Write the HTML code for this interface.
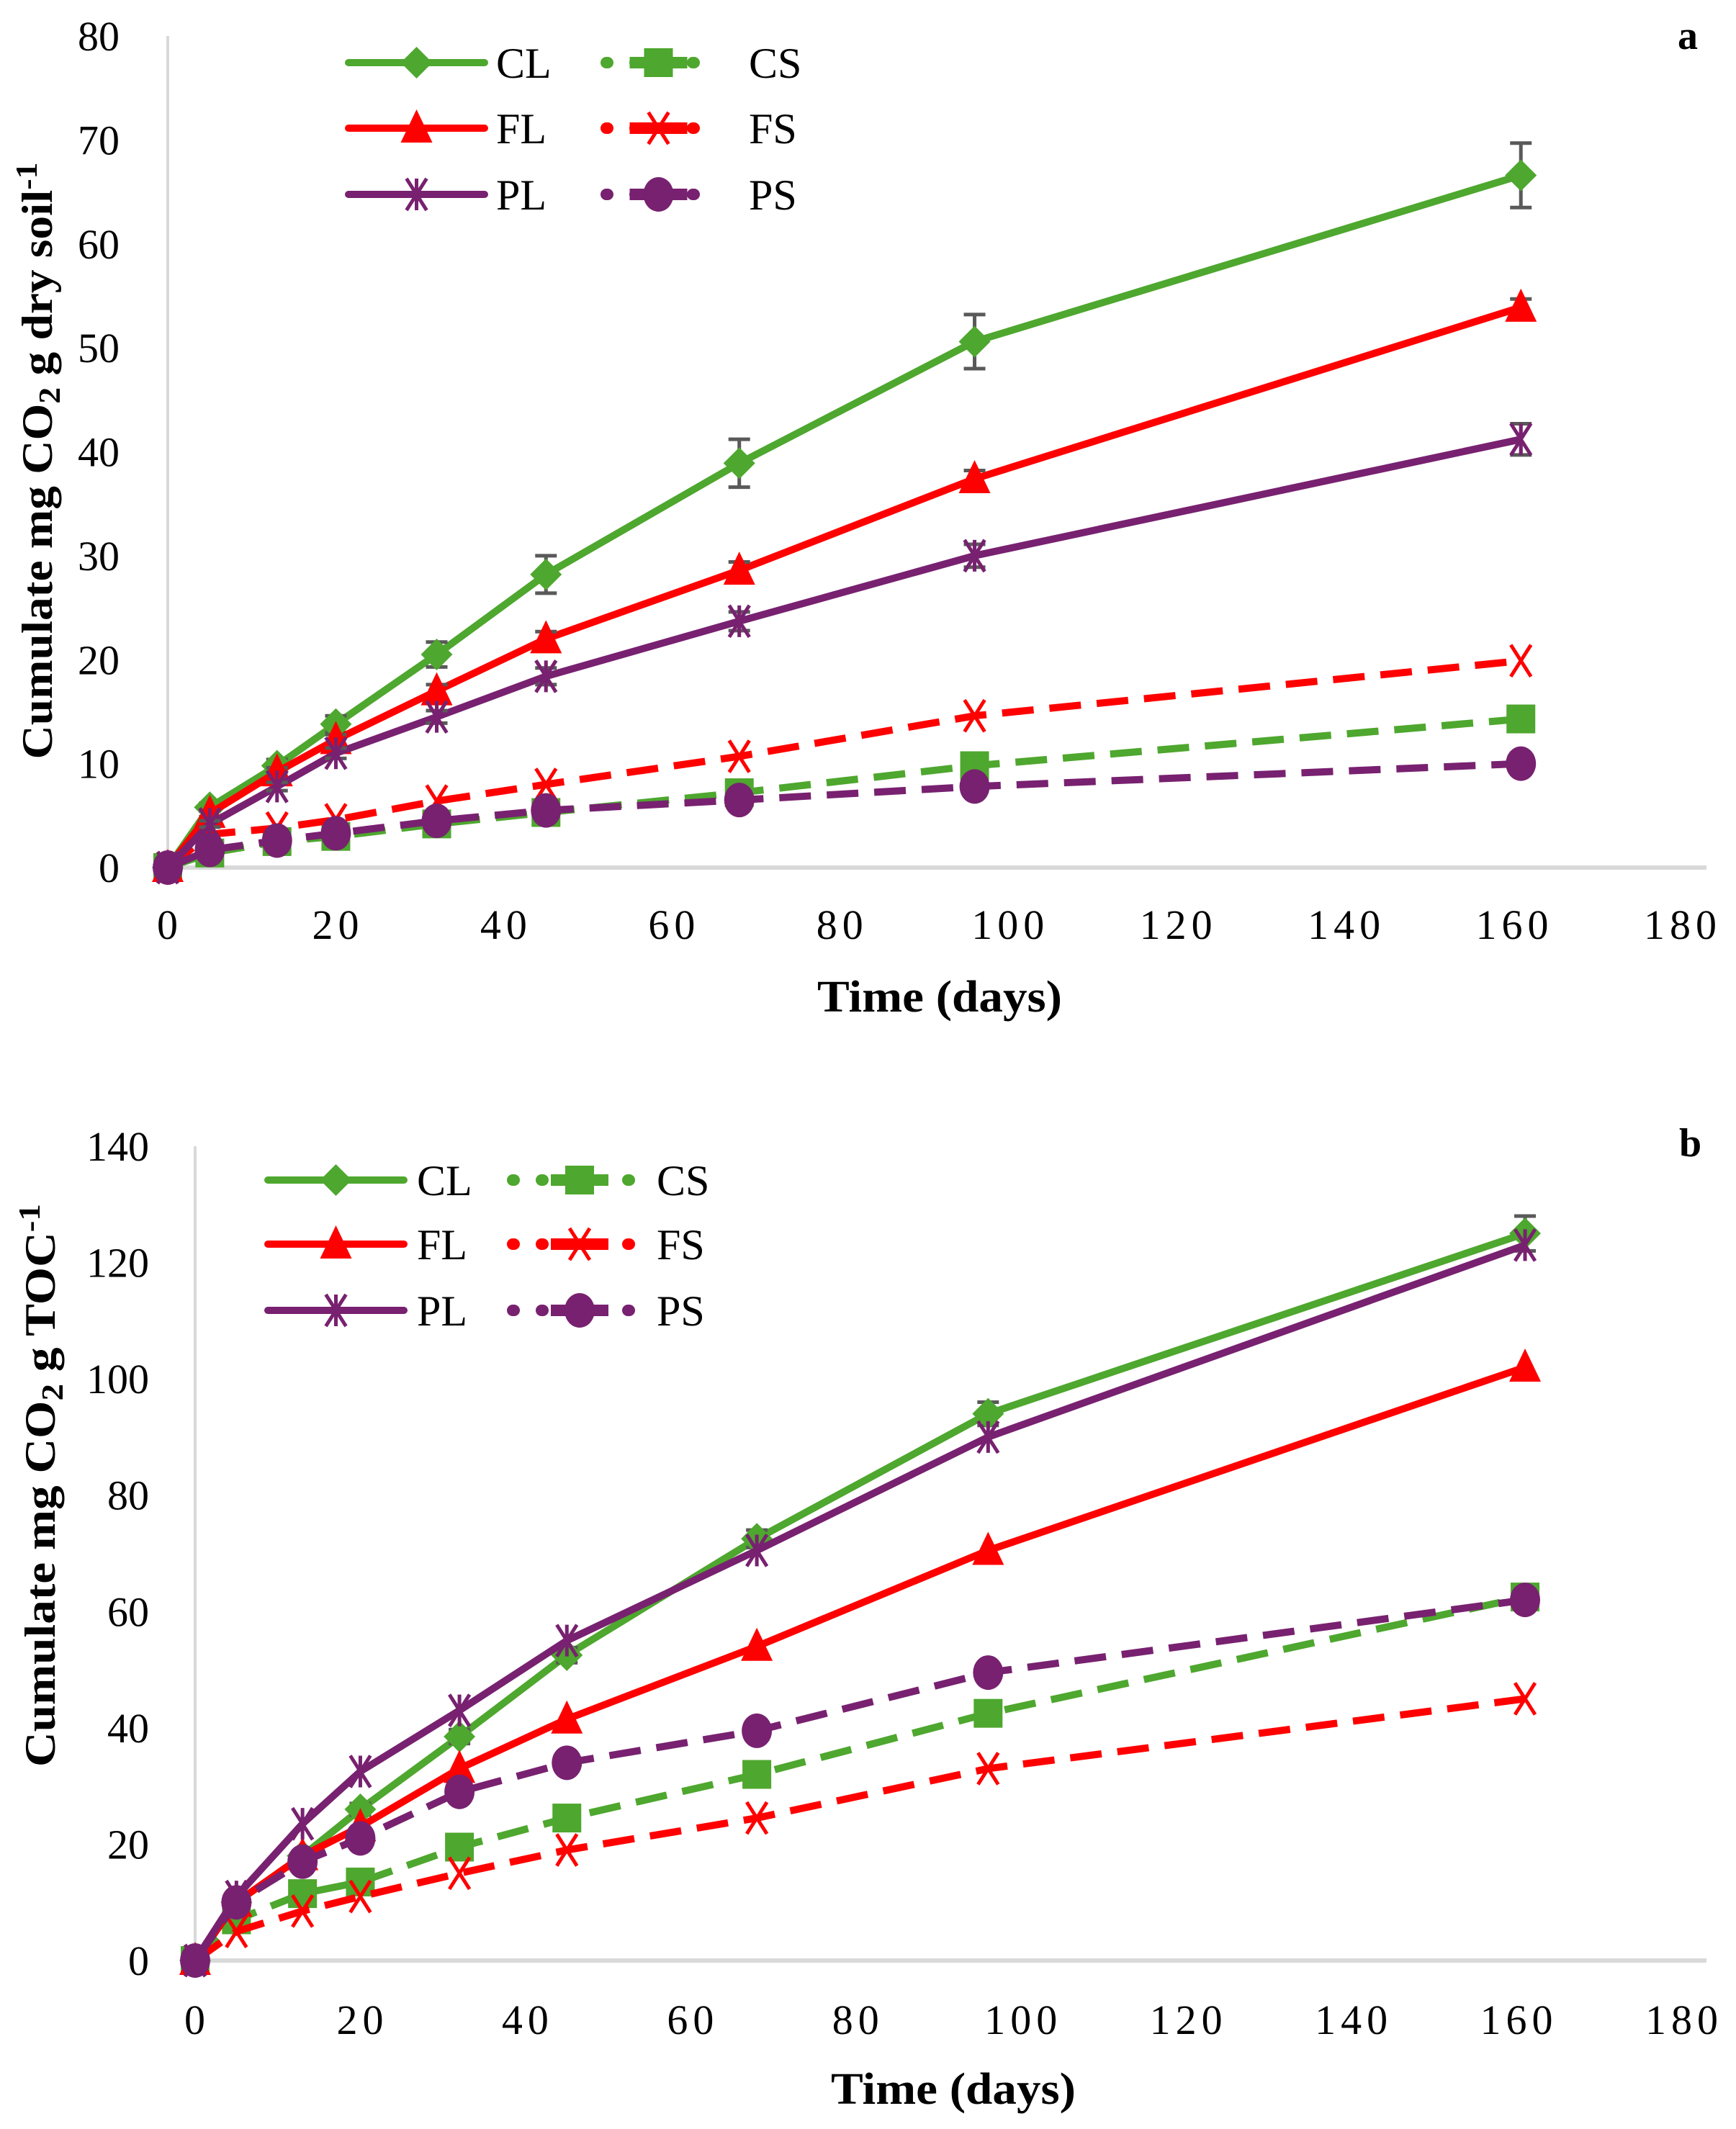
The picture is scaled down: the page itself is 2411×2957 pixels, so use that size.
<!DOCTYPE html>
<html><head><meta charset="utf-8"><title>Cumulative CO2 charts</title>
<style>
html,body{margin:0;padding:0;background:#fff;}
svg{display:block;}
text{font-family:"Liberation Serif",serif;}
</style></head>
<body>
<svg id="fig" width="2411" height="2957" viewBox="0 0 2411 2957" xmlns="http://www.w3.org/2000/svg"></svg>
<script>
const days = [0, 5, 13, 20, 32, 45, 68, 96, 161];
const xTicks = [0, 20, 40, 60, 80, 100, 120, 140, 160, 180];
const seriesNames = ["CL", "CS", "FL", "FS", "PL", "PS"];
// Chart a values (mg CO2 g dry soil-1)
const aCL = [0, 5.8, 9.8, 13.8, 20.5, 28.2, 38.9, 50.6, 66.6];
const aFL = [0, 5.2, 9.2, 12.3, 17.0, 22.0, 28.6, 37.4, 53.9];
const aPL = [0, 4.2, 7.8, 11.0, 14.5, 18.4, 23.7, 30.0, 41.2];
const aCS = [0, 1.4, 2.5, 3.0, 4.2, 5.3, 7.2, 9.8, 14.3];
const aFS = [0, 3.2, 3.8, 4.6, 6.4, 8.0, 10.7, 14.6, 19.9];
const aPS = [0, 1.7, 2.6, 3.3, 4.5, 5.5, 6.5, 7.8, 10.0];
const aErrCL = [0, 0.4, 0.6, 0.8, 1.2, 1.8, 2.3, 2.6, 3.1];
const aErrFL = [0, 0.3, 0.4, 0.5, 0.6, 0.7, 0.8, 0.8, 0.8];
const aErrPL = [0, 0.3, 0.4, 0.5, 0.6, 0.8, 0.9, 1.1, 1.5];
const aYTicks = [0, 10, 20, 30, 40, 50, 60, 70, 80];
// Chart b values (mg CO2 g TOC-1)
const bCL = [0, 10, 18, 26, 38.5, 52.5, 72.5, 94, 125];
const bFL = [0, 10, 18, 23, 33, 41.5, 54, 70.5, 102];
const bPL = [0, 11, 23.5, 32.5, 43, 55, 70.5, 90, 123];
const bCS = [0, 7, 11.5, 13.5, 19.5, 24.5, 32, 42.5, 62.5];
const bFS = [0, 5, 8.5, 11, 15, 19, 24.5, 33, 45];
const bPS = [0, 10, 17, 21, 29, 34, 39.5, 49.5, 62];
const bErrCL = [0, 0.5, 0.8, 1, 1.2, 1.3, 1.5, 2, 3];
const bYTicks = [0, 20, 40, 60, 80, 100, 120, 140];

const NS = "http://www.w3.org/2000/svg";
const svg = document.getElementById("fig");
const GREEN = "#4ea72e", RED = "#ff0000", PURPLE = "#782170";

function mk(tag, attrs, parent) {
  const e = document.createElementNS(NS, tag);
  for (const k in attrs) e.setAttribute(k, attrs[k]);
  (parent || svg).appendChild(e);
  return e;
}

function marker(g, type, cx, cy, color) {
  let m;
  if (type === "diamond") {
    m = mk("polygon", {points: `${cx},${cy-22} ${cx+22},${cy} ${cx},${cy+22} ${cx-22},${cy}`, fill: color}, g);
  } else if (type === "square") {
    m = mk("rect", {x: cx-20, y: cy-20, width: 40, height: 40, fill: color}, g);
  } else if (type === "triangle") {
    m = mk("polygon", {points: `${cx},${cy-26} ${cx+22},${cy+20} ${cx-22},${cy+20}`, fill: color}, g);
  } else if (type === "x") {
    m = mk("path", {d: `M${cx-14},${cy-22}L${cx+14},${cy+22}M${cx+14},${cy-22}L${cx-14},${cy+22}`, stroke: color, "stroke-width": 5, fill: "none"}, g);
  } else if (type === "star") {
    m = mk("path", {d: `M${cx-14},${cy-22}L${cx+14},${cy+22}M${cx+14},${cy-22}L${cx-14},${cy+22}M${cx},${cy-22}L${cx},${cy+22}`, stroke: color, "stroke-width": 5, fill: "none"}, g);
  } else {
    m = mk("ellipse", {cx: cx, cy: cy, rx: 21, ry: 24, fill: color}, g);
  }
  
  
  return m;
}

function drawChart(cfg) {
  const g = mk("g", {});
  
  
  const xs = v => cfg.x0 + (v / 180) * (cfg.x180 - cfg.x0);
  const ys = v => cfg.y0 - (v / cfg.yMax) * (cfg.y0 - cfg.yTop);

  const yAxis = mk("line", {x1: cfg.x0, y1: cfg.yTop, x2: cfg.x0, y2: cfg.y0, stroke: "#d9d9d9", "stroke-width": 4}, g);
  
  
  const xAxis = mk("line", {x1: cfg.x0, y1: cfg.y0, x2: cfg.xEnd, y2: cfg.y0, stroke: "#d9d9d9", "stroke-width": 6}, g);
  
  

  cfg.yTicks.forEach(t => {
    const tx = mk("text", {x: cfg.yLabelRight, y: ys(t) + 20, "text-anchor": "end", "font-size": 58, fill: "#000"}, g);
    tx.textContent = t;
    
    
  });
  xTicks.forEach(t => {
    const tx = mk("text", {x: xs(t) + 3, y: cfg.xLabelY + 20, "text-anchor": "middle", "font-size": 58, "letter-spacing": 7, fill: "#000"}, g);
    tx.textContent = t;
    
    
  });

  // series
  cfg.series.forEach(s => {
    const sg = mk("g", {}, g);
    
    
    const pts = days.map((d, i) => xs(d) + "," + ys(s.vals[i])).join(" ");
    const attrs = {points: pts, fill: "none", stroke: s.color, "stroke-width": 10, "stroke-linejoin": "round"};
    if (s.dash) attrs["stroke-dasharray"] = "44 22";
    const pl = mk("polyline", attrs, sg);
    
    
    if (s.err) {
      days.forEach((d, i) => {
        if (!s.err[i]) return;
        const cx = xs(d), top = ys(s.vals[i] + s.err[i]), bot = ys(s.vals[i] - s.err[i]);
        const eb = mk("path", {d: `M${cx},${top}L${cx},${bot}M${cx-15},${top}L${cx+15},${top}M${cx-15},${bot}L${cx+15},${bot}`, stroke: "#595959", "stroke-width": 5, fill: "none"}, sg);
        
        
      });
    }
    days.forEach((d, i) => marker(sg, s.marker, xs(d), ys(s.vals[i]), s.color));
  });

  // legend
  const lg = mk("g", {}, g);
  
  
  cfg.series.forEach((s, i) => {
    const col = s.dash ? 1 : 0;
    const row = Math.floor(i / 2);
    const ly = cfg.legRows[row];
    const lx1 = cfg.legCols[col][0], lx2 = cfg.legCols[col][1];
    const eg = mk("g", {}, lg);
    
    
    const la = {x1: lx1, y1: ly, x2: lx2, y2: ly, stroke: s.color, "stroke-width": 10, "stroke-linecap": "round"};
    if (s.dash) { la["stroke-dasharray"] = "2 38"; la["stroke-width"] = 16; }
    mk("line", la, eg);
    if (s.dash) mk("line", {x1: (lx1+lx2)/2 - 40, y1: ly, x2: (lx1+lx2)/2 + 40, y2: ly, stroke: s.color, "stroke-width": 16}, eg);
    marker(eg, s.marker, (lx1 + lx2) / 2, ly, s.color);
    const t = mk("text", {x: cfg.legCols[col][2], y: ly + 21, "font-size": 60, fill: "#000"}, eg);
    t.textContent = s.label;
    
    
  });

  const panel = mk("text", {x: cfg.panelX, y: cfg.panelY, "font-size": 56, "font-weight": "bold", fill: "#000"}, g);
  panel.textContent = cfg.panel;
  
  

  const xt = mk("text", {x: cfg.xTitleX, y: cfg.xTitleY, "text-anchor": "middle", "font-size": 62, "font-weight": "bold", fill: "#000", textLength: 340, lengthAdjust: "spacingAndGlyphs"}, g);
  xt.textContent = "Time (days)";
  
  

  const yt = mk("text", {x: 0, y: 0, "text-anchor": "middle", "font-size": 60, "font-weight": "bold", fill: "#000", transform: `translate(${cfg.yTitleX},${cfg.yTitleY}) rotate(-90)`, textLength: cfg.yTitleLen, lengthAdjust: "spacingAndGlyphs"}, g);
  
  
  yt.innerHTML = cfg.yTitleHTML;
}

drawChart({
  name: "chart-a", panel: "a", panelX: 2330, panelY: 68,
  x0: 233, x180: 2334, xEnd: 2370, y0: 1205, yTop: 50, yMax: 80,
  yTicks: aYTicks, yLabelRight: 166, xLabelY: 1284,
  legRows: [87, 178, 270], legCols: [[484, 673, 689], [842, 987, 1040]],
  xTitleX: 1305, xTitleY: 1405, yTitleX: 72, yTitleY: 640, yTitleLen: 829,
  yTitleHTML: 'Cumulate mg CO<tspan baseline-shift="-25%" font-size="42">2</tspan> g dry soil<tspan baseline-shift="50%" font-size="42">-1</tspan>',
  series: [
    {label: "CL", vals: aCL, color: GREEN, marker: "diamond", dash: false, err: aErrCL},
    {label: "CS", vals: aCS, color: GREEN, marker: "square", dash: true},
    {label: "FL", vals: aFL, color: RED, marker: "triangle", dash: false, err: aErrFL},
    {label: "FS", vals: aFS, color: RED, marker: "x", dash: true},
    {label: "PL", vals: aPL, color: PURPLE, marker: "star", dash: false, err: aErrPL},
    {label: "PS", vals: aPS, color: PURPLE, marker: "circle", dash: true}
  ]
});

drawChart({
  name: "chart-b", panel: "b", panelX: 2332, panelY: 1606,
  x0: 271, x180: 2336, xEnd: 2370, y0: 2723, yTop: 1592, yMax: 140,
  yTicks: bYTicks, yLabelRight: 207, xLabelY: 2805,
  legRows: [1639, 1728, 1820], legCols: [[372, 561, 579], [712, 898, 912]],
  xTitleX: 1324, xTitleY: 2922, yTitleX: 76, yTitleY: 2063, yTitleLen: 782,
  yTitleHTML: 'Cumulate mg CO<tspan baseline-shift="-25%" font-size="42">2</tspan> g TOC<tspan baseline-shift="50%" font-size="42">-1</tspan>',
  series: [
    {label: "CL", vals: bCL, color: GREEN, marker: "diamond", dash: false, err: bErrCL},
    {label: "CS", vals: bCS, color: GREEN, marker: "square", dash: true},
    {label: "FL", vals: bFL, color: RED, marker: "triangle", dash: false},
    {label: "FS", vals: bFS, color: RED, marker: "x", dash: true},
    {label: "PL", vals: bPL, color: PURPLE, marker: "star", dash: false},
    {label: "PS", vals: bPS, color: PURPLE, marker: "circle", dash: true}
  ]
});
</script>
</body></html>
